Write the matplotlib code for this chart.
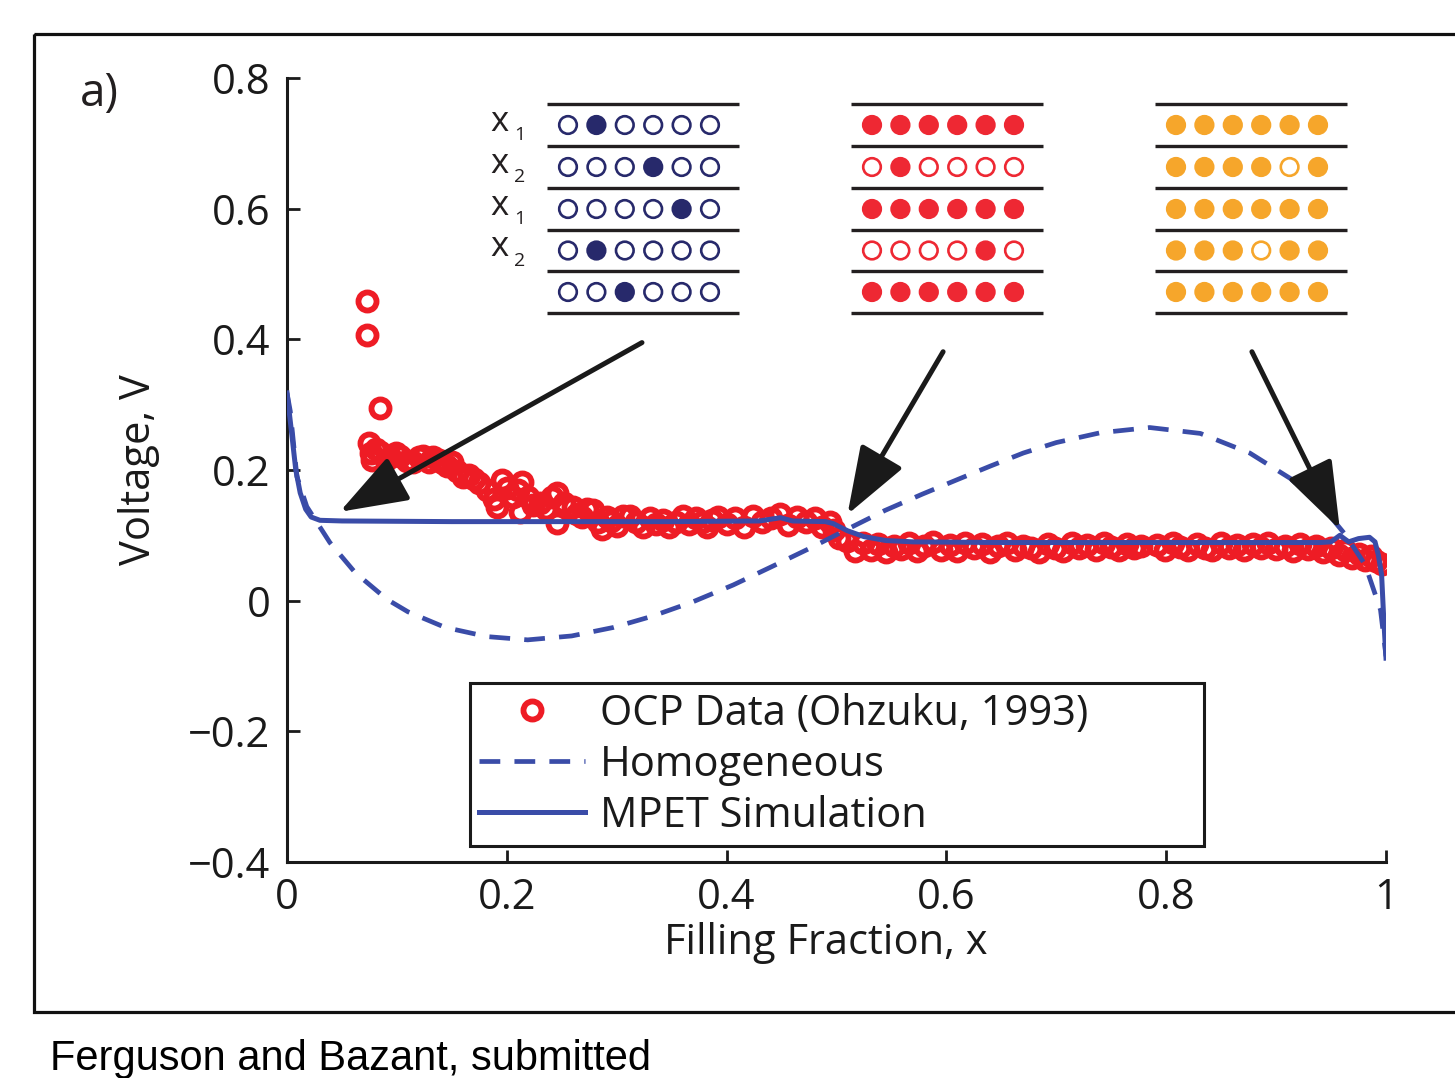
import matplotlib
matplotlib.use("Agg")
import matplotlib.pyplot as plt
from matplotlib.patches import Rectangle, Circle
from matplotlib.lines import Line2D

plt.rcParams['font.family'] = ['Open Sans', 'DejaVu Sans']

# ---------------- data ----------------
ocp_x = [0.073, 0.073, 0.085,
         0.075, 0.076, 0.077, 0.081, 0.085, 0.090, 0.094, 0.099, 0.103, 0.109, 0.115, 0.120,
         0.124, 0.129, 0.133, 0.138, 0.142, 0.146, 0.150, 0.155, 0.160, 0.166, 0.170, 0.175,
         0.182, 0.188, 0.191, 0.196, 0.200, 0.206, 0.210, 0.214, 0.212, 0.219, 0.224, 0.230,
         0.236, 0.241, 0.246, 0.246, 0.252, 0.260, 0.264, 0.268, 0.273, 0.278, 0.283, 0.287,
         0.291, 0.295, 0.300, 0.306, 0.312, 0.318, 0.324, 0.330, 0.336, 0.342, 0.348, 0.354,
         0.360, 0.366, 0.372, 0.378, 0.382, 0.387,
         0.392, 0.400, 0.408, 0.416, 0.424, 0.432, 0.440, 0.449, 0.456, 0.464, 0.472, 0.480,
         0.487, 0.494, 0.498, 0.502,
         0.510, 0.517, 0.524, 0.531, 0.538, 0.545, 0.552, 0.559, 0.566, 0.573, 0.580, 0.588,
         0.595, 0.603, 0.610, 0.617, 0.625, 0.632, 0.640, 0.647, 0.655, 0.662, 0.670, 0.677,
         0.684, 0.692, 0.699, 0.706, 0.714, 0.721, 0.728, 0.736, 0.743, 0.750, 0.757, 0.764,
         0.771, 0.777,
         0.792, 0.799, 0.806, 0.813, 0.820, 0.828, 0.835, 0.842, 0.850, 0.857, 0.864, 0.871,
         0.879, 0.886, 0.893, 0.900, 0.908, 0.915, 0.922, 0.929, 0.936, 0.943, 0.950, 0.957,
         0.963, 0.969, 0.975, 0.981, 0.986, 0.991, 0.996]
ocp_y = [0.458, 0.406, 0.295,
         0.242, 0.226, 0.216, 0.232, 0.228, 0.216, 0.220, 0.226, 0.222, 0.214, 0.213, 0.220,
         0.222, 0.212, 0.220, 0.216, 0.210, 0.206, 0.213, 0.198, 0.190, 0.193, 0.186, 0.180,
         0.170, 0.155, 0.144, 0.185, 0.172, 0.159, 0.170, 0.182, 0.135, 0.159, 0.146, 0.150,
         0.140, 0.158, 0.165, 0.119, 0.150, 0.144, 0.132, 0.128, 0.140, 0.139, 0.120, 0.109,
         0.128, 0.122, 0.115, 0.130, 0.129, 0.120, 0.113, 0.126, 0.118, 0.124, 0.113, 0.121,
         0.129, 0.117, 0.126, 0.120, 0.113, 0.124,
         0.128, 0.118, 0.126, 0.112, 0.130, 0.120, 0.126, 0.132, 0.116, 0.128, 0.120, 0.126,
         0.113, 0.120, 0.108, 0.096,
         0.092, 0.076, 0.088, 0.078, 0.086, 0.074, 0.084, 0.079, 0.088, 0.076, 0.083, 0.090,
         0.078, 0.085, 0.076, 0.088, 0.080, 0.086, 0.075, 0.084, 0.089, 0.077, 0.084, 0.080,
         0.074, 0.087, 0.081, 0.076, 0.088, 0.080, 0.085, 0.077, 0.088, 0.082, 0.078, 0.086,
         0.080, 0.084,
         0.085, 0.078, 0.088, 0.082, 0.077, 0.087, 0.081, 0.078, 0.088, 0.080, 0.085, 0.077,
         0.086, 0.080, 0.088, 0.079, 0.084, 0.076, 0.086, 0.079, 0.083, 0.074, 0.080, 0.070,
         0.077, 0.066, 0.072, 0.063, 0.068, 0.060, 0.056]

homog_x = [0.0, 0.003, 0.009, 0.018, 0.039, 0.062, 0.091, 0.110, 0.144, 0.182, 0.219,
           0.259, 0.297, 0.332, 0.369, 0.406, 0.441, 0.478, 0.513, 0.544, 0.578, 0.611,
           0.640, 0.670, 0.700, 0.740, 0.785, 0.831, 0.876, 0.913, 0.940, 0.963, 0.981,
           0.995, 1.0]
homog_y = [0.318, 0.290, 0.190, 0.144, 0.089, 0.043, 0.002, -0.017, -0.041, -0.055, -0.060,
           -0.054, -0.041, -0.024, -0.002, 0.024, 0.052, 0.082, 0.112, 0.138, 0.163, 0.186,
           0.206, 0.226, 0.242, 0.257, 0.265, 0.256, 0.226, 0.187, 0.148, 0.101, 0.055,
           -0.014, -0.085]

mpet_x = [0.0, 0.004, 0.008, 0.012, 0.017, 0.022, 0.030, 0.050, 0.150, 0.250, 0.350, 0.430,
          0.449, 0.460, 0.490, 0.497, 0.510, 0.525, 0.545, 0.570, 0.650, 0.750, 0.850,
          0.940, 0.950, 0.958, 0.966, 0.975, 0.985, 0.990, 0.993, 0.996, 0.998, 1.0]
mpet_y = [0.318, 0.260, 0.200, 0.165, 0.140, 0.128, 0.123, 0.122, 0.121, 0.121, 0.121, 0.122,
          0.127, 0.122, 0.121, 0.118, 0.107, 0.098, 0.092, 0.090, 0.089, 0.089, 0.089,
          0.089, 0.090, 0.100, 0.090, 0.095, 0.097, 0.090, 0.070, 0.040, -0.030, -0.088]

xticks = [0, 0.2, 0.4, 0.6, 0.8, 1]
xticklabels = ['0', '0.2', '0.4', '0.6', '0.8', '1']
yticks = [-0.4, -0.2, 0, 0.2, 0.4, 0.6, 0.8]
yticklabels = ['\u22120.4', '\u22120.2', '0', '0.2', '0.4', '0.6', '0.8']

legend_labels = ['OCP Data (Ohzuku, 1993)', 'Homogeneous', 'MPET Simulation']

# arrows: (tail x, tail y, head x, head y) in data units
arrows = [(0.323, 0.395, 0.048, 0.136),
          (0.597, 0.381, 0.510, 0.132),
          (0.878, 0.381, 0.958, 0.109)]

# inset ladders
ladder_colors = ['#27296b', '#ee2833', '#f6a62b']
ladder_filled = [
    [[0, 1, 0, 0, 0, 0], [0, 0, 0, 1, 0, 0], [0, 0, 0, 0, 1, 0], [0, 1, 0, 0, 0, 0], [0, 0, 1, 0, 0, 0]],
    [[1, 1, 1, 1, 1, 1], [0, 1, 0, 0, 0, 0], [1, 1, 1, 1, 1, 1], [0, 0, 0, 0, 1, 0], [1, 1, 1, 1, 1, 1]],
    [[1, 1, 1, 1, 1, 1], [1, 1, 1, 1, 0, 1], [1, 1, 1, 1, 1, 1], [1, 1, 1, 0, 1, 1], [1, 1, 1, 1, 1, 1]],
]
row_subscripts = ['1', '2', '1', '2']

# ---------------- figure ----------------
W, H = 1455, 1078
fig = plt.figure(figsize=(W / 100, H / 100), dpi=100)

blue = '#3a4ca8'
red = '#ee1c25'
ink = '#1a1a1a'
FS = 30

ax = fig.add_axes([287 / W, 1 - 862 / H, (1386 - 287) / W, (862 - 78) / H])
ax.plot(homog_x, homog_y, color=blue, lw=3.4, dashes=(4.4, 3.0), zorder=3)
ax.plot(ocp_x, ocp_y, ls='none', marker='o', ms=13, mfc='none', mec=red, mew=4.2, zorder=2)
ax.plot(mpet_x, mpet_y, color=blue, lw=3.6, zorder=4)

ax.set_xlim(0, 1)
ax.set_ylim(-0.4, 0.8)
ax.set_xticks(xticks)
ax.set_xticklabels(xticklabels)
ax.set_yticks(yticks)
ax.set_yticklabels(yticklabels)
for s in ['top', 'right']:
    ax.spines[s].set_visible(False)
for s in ['left', 'bottom']:
    ax.spines[s].set_linewidth(2.2)
    ax.spines[s].set_color(ink)
ax.tick_params(direction='in', length=9, width=2, labelsize=FS, color=ink, labelcolor=ink)
ax.tick_params(axis='y', pad=12)
ax.tick_params(axis='x', pad=11)
ax.set_xlabel('Filling Fraction, x', fontsize=FS, color=ink)
ax.xaxis.set_label_coords(0.49, -0.077)
ax.set_ylabel('Voltage, V', fontsize=FS, labelpad=20, color=ink)

handles = [Line2D([], [], ls='none', marker='o', ms=13, mfc='none', mec=red, mew=4.2),
           Line2D([], [], color=blue, lw=3.4, dashes=(4.4, 3.0)),
           Line2D([], [], color=blue, lw=3.6)]
leg = ax.legend(handles, legend_labels, loc='lower left',
                bbox_to_anchor=(0.1665, 0.0204, 0.6675, 0.2092), mode='expand',
                fontsize=FS, frameon=True, fancybox=False, edgecolor=ink, framealpha=1,
                handlelength=2.55, handletextpad=0.35, labelspacing=0.22,
                borderpad=0.22, borderaxespad=0)
leg.get_frame().set_linewidth(2.2)
for t in leg.get_texts():
    t.set_color(ink)

for tx, ty, hx, hy in arrows:
    ax.annotate('', xy=(hx, hy), xytext=(tx, ty),
                arrowprops=dict(arrowstyle='-|>,head_length=1.4,head_width=0.5',
                                mutation_scale=30, lw=3.6, color=ink,
                                shrinkA=0, shrinkB=0), zorder=6)

# ---------------- overlay (pixel coords) ----------------
ov = fig.add_axes([0, 0, 1, 1], zorder=5)
ov.set_xlim(0, W)
ov.set_ylim(H, 0)
ov.axis('off')
ov.patch.set_alpha(0)

ov.add_patch(Rectangle((34, 34), W + 20 - 34, 1012 - 34, fill=False, lw=2.3,
                       ec='#111111', clip_on=False))

line_ys = [104, 146, 188, 230, 271, 313]
ladder_lefts = [547, 851, 1155]
for li, left in enumerate(ladder_lefts):
    for yy in line_ys:
        ov.plot([left, left + 192], [yy, yy], color='#231f20', lw=2.4, solid_capstyle='butt')
    for r, row in enumerate(ladder_filled[li]):
        cy = (line_ys[r] + line_ys[r + 1]) / 2
        for i, f in enumerate(row):
            cx = left + 21 + 28.4 * i
            ov.add_patch(Circle((cx, cy), 8.8, fc=ladder_colors[li] if f else 'white',
                                ec=ladder_colors[li], lw=1.9))

for r, sub in enumerate(row_subscripts):
    cy = (line_ys[r] + line_ys[r + 1]) / 2
    ov.text(490, cy - 3, 'x', fontsize=25, ha='left', va='center', color='#231f20')
    ov.text(514, cy + 10, sub, fontsize=14, ha='left', va='center', color='#231f20')

ov.text(80, 106, 'a)', fontsize=33, ha='left', va='baseline', color='#231f20')
ov.text(50, 1070, 'Ferguson and Bazant, submitted', fontsize=30, ha='left', va='baseline',
        family='Liberation Sans', color='black')

fig.savefig('out.png', dpi=100)
